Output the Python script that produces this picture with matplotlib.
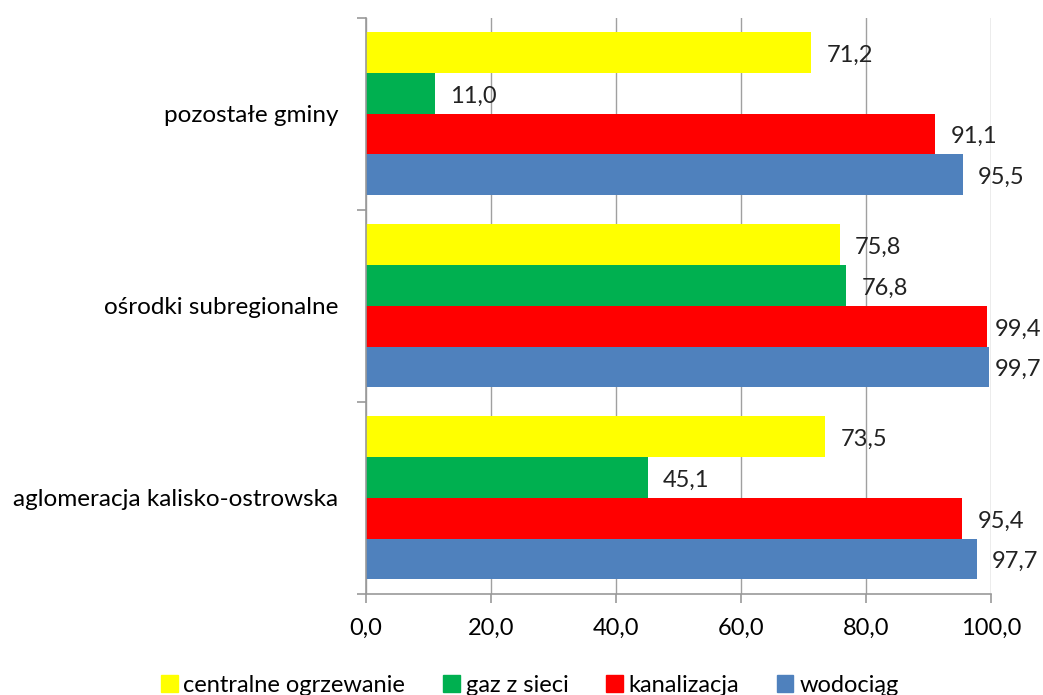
import matplotlib
matplotlib.use("Agg")
import matplotlib.pyplot as plt
import numpy as np
from matplotlib.patches import Patch

# dane
categories = ['aglomeracja kalisko-ostrowska', 'ośrodki subregionalne', 'pozostałe gminy']
series_names = ['wodociąg', 'kanalizacja', 'gaz z sieci', 'centralne ogrzewanie']
wodociag = [97.7, 99.7, 95.5]
kanalizacja = [95.4, 99.4, 91.1]
gaz = [45.1, 76.8, 11.0]
co = [73.5, 75.8, 71.2]
colors = ['#4F81BD', '#FF0000', '#00B050', '#FFFF00']
xticks = [0, 20, 40, 60, 80, 100]

plt.rcParams['font.family'] = ['Lato', 'DejaVu Sans']
fs = 17

fig = plt.figure(figsize=(10.43, 6.95), dpi=100)
ax = fig.add_axes([0.3509, 0.1453, 0.5993, 0.8295])

y = np.arange(len(categories))
h = 0.212
values = [wodociag, kanalizacja, gaz, co]
labels = []
for i, (vals, col) in enumerate(zip(values, colors)):
    pos = y + (i - 1.5) * h
    ax.barh(pos, vals, height=h, color=col, zorder=2)
    for p, v in zip(pos, vals):
        t = ax.annotate(f'{v:.1f}'.replace('.', ','), (v, p), xytext=(11, -2),
                        textcoords='offset points', va='center', ha='left',
                        fontsize=fs, color='#222222')
        labels.append(t)

ax.set_xlim(0, 100)
ax.set_ylim(-0.5, 2.5)
ax.set_xticks(xticks)
ax.set_xticklabels([f'{t:.1f}'.replace('.', ',') for t in xticks], fontsize=fs)
ax.grid(axis='x', color='#a0a0a0', linewidth=1, zorder=0)

# podzialki y na granicach kategorii, etykiety w srodku
ax.set_yticks([-0.5, 0.5, 1.5, 2.5])
ax.set_yticklabels([])
ax.set_yticks(y, minor=True)
ax.set_yticklabels(categories, minor=True, fontsize=17.5)
ax.tick_params(axis='y', which='minor', length=0, pad=20)
ax.tick_params(axis='y', which='major', length=6.5, color='#999999', width=1.2)
ax.tick_params(axis='x', length=6.5, color='#999999', width=1.2, pad=11)

for s in ['top', 'right']:
    ax.spines[s].set_visible(False)
for s in ['left', 'bottom']:
    ax.spines[s].set_color('#999999')
    ax.spines[s].set_linewidth(1.2)

handles = [Patch(color=c) for c in colors[::-1]]
fig.legend(handles, series_names[::-1], loc='center', bbox_to_anchor=(0.508, 0.014),
           ncol=4, frameon=False, fontsize=fs, handlelength=0.7, handleheight=0.7,
           handletextpad=0.25, columnspacing=1.6)

# etykiety przy prawej krawedzi przesuniete do srodka (jak w Excelu)
fig.canvas.draw()
r = fig.canvas.get_renderer()
for t in labels:
    bb = t.get_window_extent(r)
    if bb.x1 > 1041:
        dx = (bb.x1 - 1041) * 72 / fig.dpi
        t.xyann = (max(t.xyann[0] - dx, 3), t.xyann[1])

fig.savefig('out.png', dpi=100)
